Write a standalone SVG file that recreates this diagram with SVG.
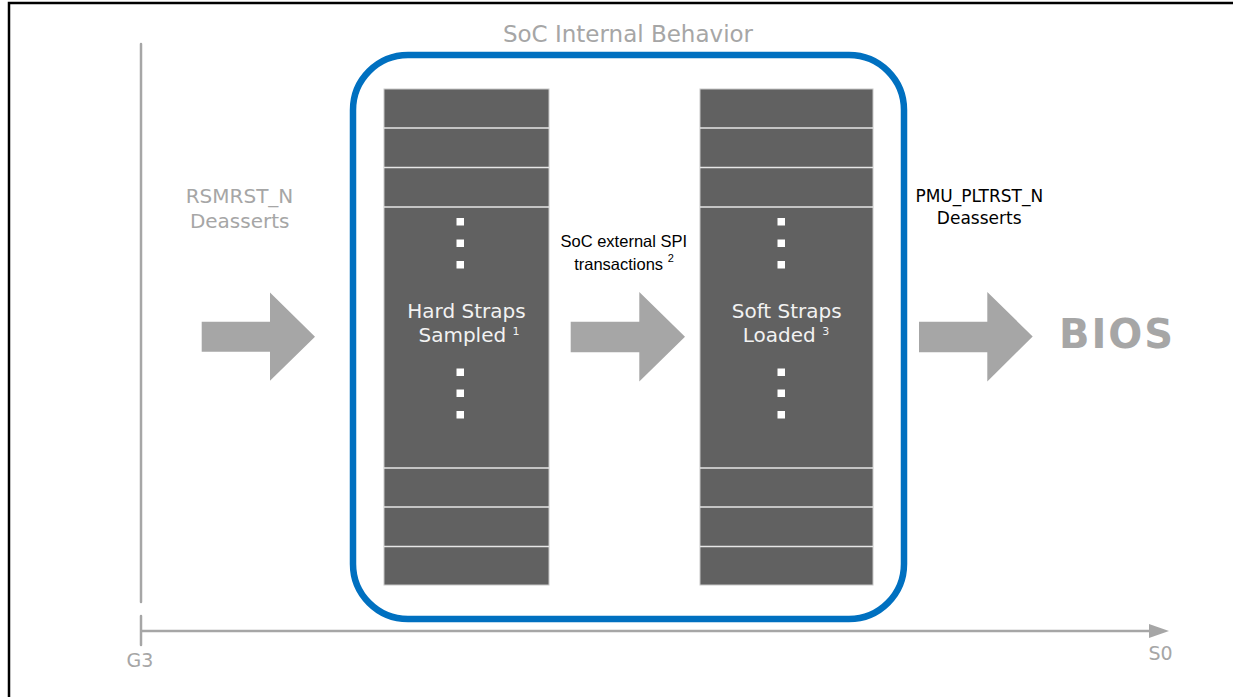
<svg xmlns="http://www.w3.org/2000/svg" width="1233" height="697" viewBox="0 0 1233 697">
<defs>
<style>
.col{fill:#616161;stroke:#c8c8c8;stroke-width:1}
.sep{stroke:#e6e6e6;stroke-width:1.5}
.dot{fill:#ffffff}
.wt{font-family:"DejaVu Sans",Verdana,sans-serif;font-size:20px;fill:#f2f2f2;text-anchor:middle}
.gt{font-family:"DejaVu Sans",Verdana,sans-serif;fill:#a6a6a6;text-anchor:middle}
.bt{font-family:"DejaVu Sans",Verdana,sans-serif;fill:#000;text-anchor:middle}
.at{font-family:"Liberation Sans",Arial,sans-serif;fill:#000;font-size:16.5px;text-anchor:middle}
.arr{fill:#a6a6a6}
.axis{stroke:#a6a6a6;stroke-width:2.5;fill:none;stroke-linecap:round}
</style>
</defs>
<rect x="0" y="0" width="1233" height="697" fill="#ffffff"/>
<rect x="9" y="3" width="1240" height="720" fill="none" stroke="#000" stroke-width="2.5"/>

<g id="axes">
<line class="axis" x1="141" y1="44" x2="141" y2="602"/>
<line class="axis" x1="141" y1="616" x2="141" y2="645"/>
<line x1="141" y1="631" x2="1150" y2="631" stroke="#a6a6a6" stroke-width="2.5"/>
<path d="M1149,624 L1169,631 L1149,638 Z" fill="#a6a6a6"/>
<text class="gt" x="140" y="667" font-size="19">G3</text>
<text class="gt" x="1160.5" y="660" font-size="19">S0</text>
</g>

<g id="soc-boundary">
<rect x="353" y="55" width="551" height="564" rx="55" ry="55" fill="none" stroke="#0070c0" stroke-width="6.5"/>
<text class="gt" x="628" y="42" font-size="23">SoC Internal Behavior</text>
</g>

<g id="rsmrst">
<text class="gt" x="239.5" y="202.7" font-size="20">RSMRST_N</text>
<text class="gt" x="239.7" y="228" font-size="20">Deasserts</text>
</g>

<g id="hard-straps">
<rect class="col" x="384" y="89" width="165" height="496"/>
<line class="sep" x1="384" y1="128" x2="549" y2="128"/>
<line class="sep" x1="384" y1="167.5" x2="549" y2="167.5"/>
<line class="sep" x1="384" y1="207" x2="549" y2="207"/>
<line class="sep" x1="384" y1="468" x2="549" y2="468"/>
<line class="sep" x1="384" y1="507" x2="549" y2="507"/>
<line class="sep" x1="384" y1="546.5" x2="549" y2="546.5"/>
<rect class="dot" x="456.5" y="218" width="7.5" height="7.5"/>
<rect class="dot" x="456.5" y="239.5" width="7.5" height="7.5"/>
<rect class="dot" x="456.5" y="261" width="7.5" height="7.5"/>
<rect class="dot" x="456.5" y="368.5" width="7.5" height="7.5"/>
<rect class="dot" x="456.5" y="389.5" width="7.5" height="7.5"/>
<rect class="dot" x="456.5" y="411" width="7.5" height="7.5"/>
<text class="wt" x="466.5" y="318.3">Hard Straps</text>
<text class="wt" x="469" y="341.7">Sampled <tspan font-size="11" dy="-7">1</tspan></text>
</g>

<g id="soft-straps">
<rect class="col" x="700" y="89" width="173" height="496"/>
<line class="sep" x1="700" y1="128" x2="873" y2="128"/>
<line class="sep" x1="700" y1="167.5" x2="873" y2="167.5"/>
<line class="sep" x1="700" y1="207" x2="873" y2="207"/>
<line class="sep" x1="700" y1="468" x2="873" y2="468"/>
<line class="sep" x1="700" y1="507" x2="873" y2="507"/>
<line class="sep" x1="700" y1="546.5" x2="873" y2="546.5"/>
<rect class="dot" x="777.5" y="218" width="7.5" height="7.5"/>
<rect class="dot" x="777.5" y="239.5" width="7.5" height="7.5"/>
<rect class="dot" x="777.5" y="261" width="7.5" height="7.5"/>
<rect class="dot" x="777.5" y="368.5" width="7.5" height="7.5"/>
<rect class="dot" x="777.5" y="389.5" width="7.5" height="7.5"/>
<rect class="dot" x="777.5" y="411" width="7.5" height="7.5"/>
<text class="wt" x="786.7" y="318.3">Soft Straps</text>
<text class="wt" x="786" y="341.7">Loaded <tspan font-size="11" dy="-7">3</tspan></text>
</g>

<g id="spi-label">
<text class="at" x="623.8" y="247">SoC external SPI</text>
<text class="at" x="624" y="269.5">transactions <tspan font-size="11" dy="-8">2</tspan></text>
</g>

<g id="pltrst">
<text class="bt" x="979.3" y="201.7" font-size="17">PMU_PLTRST_N</text>
<text class="bt" x="979.2" y="224.3" font-size="17">Deasserts</text>
</g>

<g id="bios">
<text class="gt" x="1117" y="348.3" font-size="40" font-weight="bold" letter-spacing="2">BIOS</text>
</g>

<g id="connectors">
<path class="arr" d="M201.7,321.7 H270 V292.5 L315,336.7 L270,380.8 V351.7 H201.7 Z"/>
<path class="arr" d="M570.7,321.7 H639.3 V292 L685,336.7 L639.3,381.5 V352.3 H570.7 Z"/>
<path class="arr" d="M919,321.7 H987.3 V292 L1032.7,336.5 L987.3,381.5 V352.3 H919 Z"/>
</g>
</svg>
